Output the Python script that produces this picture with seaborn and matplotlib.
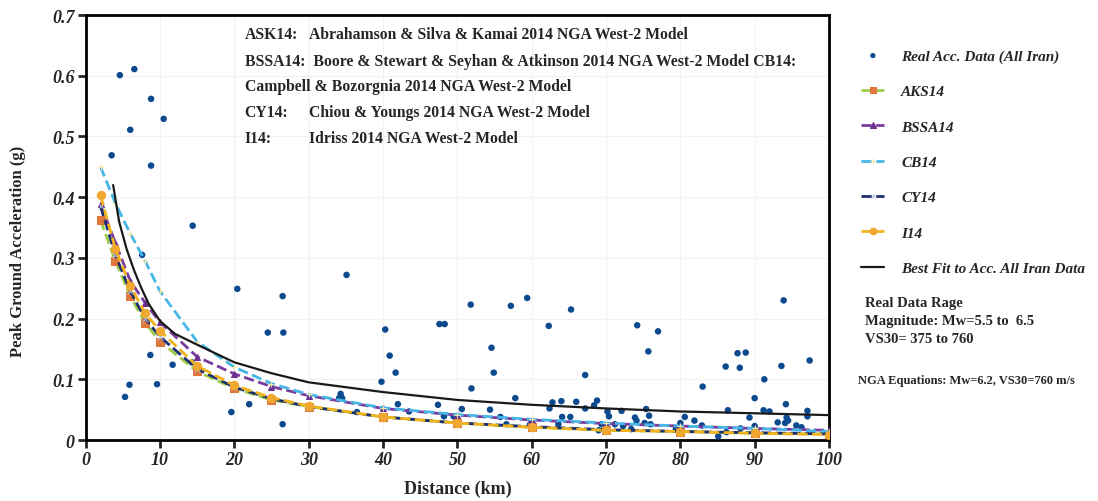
import numpy as np
import pandas as pd
import matplotlib
matplotlib.use("Agg")
import matplotlib.pyplot as plt
import seaborn as sns

# real acceleration records (distance km, PGA g)
real_dist = [4.6, 6.55, 8.8, 10.5, 6.0, 3.5, 8.8, 14.4, 7.6, 20.4, 26.5,
             35.1, 40.3, 47.6, 48.3, 51.8, 57.2, 59.4, 62.3, 65.3, 74.2, 77.0, 93.9,
             24.5, 26.6, 8.7, 11.7, 9.6, 5.9, 5.3, 14.3, 19.6, 22.0, 26.5,
             40.9, 41.7, 39.8, 34.3, 34.1, 34.5, 36.5, 42.0, 43.5, 47.4, 48.2, 49.5,
             50.6, 51.9, 54.6, 54.9, 54.4, 55.8, 56.6, 57.8, 59.8, 62.4, 62.8, 64.0,
             64.1, 65.2, 66.0, 63.6,
             75.7, 67.2, 67.2, 68.4, 68.8, 70.2, 70.4, 71.2, 72.1, 72.3, 69.4, 69.0,
             73.4, 73.9, 74.1, 75.4, 75.8, 75.2, 76.0, 79.4, 80.0, 80.6, 81.9, 83.0,
             82.9, 85.1, 86.1, 86.4, 86.2, 87.7, 88.0, 88.8, 88.1, 89.3, 90.0, 90.0,
             91.3, 91.2, 92.0, 93.1, 93.6, 94.2, 94.3, 94.5, 94.1, 95.6, 96.3, 97.1,
             97.1, 97.4]
real_pga = [0.601, 0.611, 0.562, 0.529, 0.511, 0.469, 0.452, 0.353, 0.305, 0.249, 0.237,
            0.272, 0.182, 0.191, 0.191, 0.223, 0.221, 0.234, 0.188, 0.215, 0.189, 0.179, 0.230,
            0.177, 0.177, 0.140, 0.124, 0.092, 0.091, 0.071, 0.128, 0.046, 0.059, 0.026,
            0.139, 0.111, 0.096, 0.076, 0.069, 0.069, 0.046, 0.059, 0.047, 0.058, 0.039, 0.039,
            0.051, 0.085, 0.152, 0.111, 0.050, 0.038, 0.026, 0.069, 0.026, 0.052, 0.062, 0.064,
            0.038, 0.038, 0.063, 0.026,
            0.146, 0.107, 0.052, 0.057, 0.065, 0.047, 0.039, 0.026, 0.048, 0.023, 0.026, 0.016,
            0.018, 0.037, 0.032, 0.051, 0.040, 0.028, 0.026, 0.018, 0.028, 0.038, 0.032, 0.088,
            0.024, 0.006, 0.121, 0.049, 0.013, 0.143, 0.119, 0.144, 0.019, 0.037, 0.069, 0.023,
            0.100, 0.049, 0.047, 0.029, 0.122, 0.059, 0.037, 0.032, 0.028, 0.024, 0.021, 0.048,
            0.039, 0.131]

# NGA West-2 model predictions
model_dist = [2, 4, 6, 8, 10, 15, 20, 25, 30, 40, 50, 60, 70, 80, 90, 100]
aks14 = [0.362, 0.295, 0.237, 0.193, 0.162, 0.113, 0.085, 0.066, 0.055, 0.038, 0.028, 0.021, 0.016, 0.014, 0.011, 0.010]
bssa14 = [0.389, 0.325, 0.262, 0.226, 0.194, 0.137, 0.109, 0.088, 0.073, 0.052, 0.041, 0.033, 0.027, 0.023, 0.019, 0.016]
cb14 = [0.450, 0.390, 0.340, 0.295, 0.245, 0.162, 0.120, 0.093, 0.075, 0.053, 0.042, 0.034, 0.028, 0.023, 0.019, 0.014]
cy14 = [0.385, 0.305, 0.245, 0.200, 0.170, 0.117, 0.087, 0.068, 0.055, 0.038, 0.028, 0.022, 0.017, 0.014, 0.012, 0.010]
i14 = [0.403, 0.315, 0.254, 0.209, 0.180, 0.122, 0.090, 0.070, 0.056, 0.038, 0.028, 0.021, 0.016, 0.014, 0.011, 0.009]

# best fit curve
fit_dist = [3.7, 4.5, 5.5, 6.5, 7.5, 8.5, 10, 12, 15, 20, 25, 30, 40, 50, 60, 70, 80, 90, 100]
fit_pga = [0.420, 0.360, 0.315, 0.280, 0.250, 0.224, 0.196, 0.175, 0.157, 0.128, 0.110, 0.095, 0.079, 0.066, 0.058, 0.052, 0.047, 0.044, 0.041]

sns.set_style("white")
plt.rcParams["font.family"] = ["Liberation Serif", "DejaVu Serif"]

fig = plt.figure(figsize=(10.98, 5.02), dpi=100)
ax = fig.add_axes([0.078, 0.1215, 0.677, 0.8465])

ax.grid(True, color="#f2f2f2", linewidth=0.8)

sns.scatterplot(x=real_dist, y=real_pga, ax=ax, color="#0b4a8f", s=22,
                edgecolor="none", label="Real Acc. Data (All Iran)", zorder=3)

models = [
    ("AKS14", aks14, "#9ccc4a", "s", "#e0773a", 6),
    ("BSSA14", bssa14, "#7a3b9e", "^", "#6a2f8f", 5),
    ("CB14", cb14, "#45b6e6", "+", "#f5e6a0", 5),
    ("CY14", cy14, "#1c2f6e", "x", "#b8c4e0", 4),
    ("I14", i14, "#f2b21c", "o", "#f0a830", 6),
]
for name, vals, lc, mk, mc, ms in models:
    sns.lineplot(x=model_dist, y=vals, ax=ax, color=lc, linestyle="--",
                 linewidth=2, marker=mk, markersize=ms, markerfacecolor=mc,
                 markeredgecolor=mc, label=name, zorder=4)

sns.lineplot(x=fit_dist, y=fit_pga, ax=ax, color="#1a1a1a", linewidth=1.6,
             label="Best Fit to Acc. All Iran Data", zorder=5)

ax.set_xlim(0, 100)
ax.set_ylim(0, 0.7)
ax.set_xticks(np.arange(0, 101, 10))
ax.set_yticks(np.arange(0, 0.71, 0.1))
ax.set_yticklabels(["0", "0.1", "0.2", "0.3", "0.4", "0.5", "0.6", "0.7"])
for lab in ax.get_xticklabels() + ax.get_yticklabels():
    lab.set_fontweight("bold")
    lab.set_fontstyle("italic")
    lab.set_fontsize(13)
ax.tick_params(direction="out", length=6, width=2, bottom=True, left=True, pad=2)
for sp in ax.spines.values():
    sp.set_linewidth(2)
    sp.set_color("black")

ax.set_xlabel("Distance (km)", fontsize=13, fontweight="bold", labelpad=8)
ax.set_ylabel("Peak Ground Acceleration (g)", fontsize=12, fontweight="bold")
ax.yaxis.set_label_coords(-0.08, 0.447)

# model descriptions
tx0, tx1 = 0.214, 0.300
lines_y = [0.955, 0.892, 0.833, 0.772, 0.711]
fs = 11.3
ax.text(tx0, lines_y[0], "ASK14:", transform=ax.transAxes, fontsize=fs, fontweight="bold", va="center")
ax.text(tx1, lines_y[0], "Abrahamson & Silva & Kamai 2014 NGA West-2 Model", transform=ax.transAxes,
        fontsize=fs, fontweight="bold", va="center")
ax.text(tx0, lines_y[1], "BSSA14:  Boore & Stewart & Seyhan & Atkinson 2014 NGA West-2 Model CB14:",
        transform=ax.transAxes, fontsize=fs, fontweight="bold", va="center")
ax.text(tx0, lines_y[2], "Campbell & Bozorgnia 2014 NGA West-2 Model", transform=ax.transAxes,
        fontsize=fs, fontweight="bold", va="center")
ax.text(tx0, lines_y[3], "CY14:", transform=ax.transAxes, fontsize=fs, fontweight="bold", va="center")
ax.text(tx1, lines_y[3], "Chiou & Youngs 2014 NGA West-2 Model", transform=ax.transAxes,
        fontsize=fs, fontweight="bold", va="center")
ax.text(tx0, lines_y[4], "I14:", transform=ax.transAxes, fontsize=fs, fontweight="bold", va="center")
ax.text(tx1, lines_y[4], "Idriss 2014 NGA West-2 Model", transform=ax.transAxes,
        fontsize=fs, fontweight="bold", va="center")

handles, labels = ax.get_legend_handles_labels()
ax.get_legend().remove()
fig.legend(handles, labels, loc="upper left", bbox_to_anchor=(0.772, 0.928),
           frameon=False, prop={"weight": "bold", "style": "italic", "size": 11},
           labelspacing=1.42, handlelength=1.5, handletextpad=1.1, markerscale=0.8)

fig.text(0.788, 0.408, "Real Data Rage\nMagnitude: Mw=5.5 to  6.5\nVS30= 375 to 760",
         fontsize=10.5, fontweight="bold", va="top", linespacing=1.5)
fig.text(0.781, 0.242, "NGA Equations: Mw=6.2, VS30=760 m/s",
         fontsize=9, fontweight="bold", va="center")

fig.savefig("out.png", dpi=100)
